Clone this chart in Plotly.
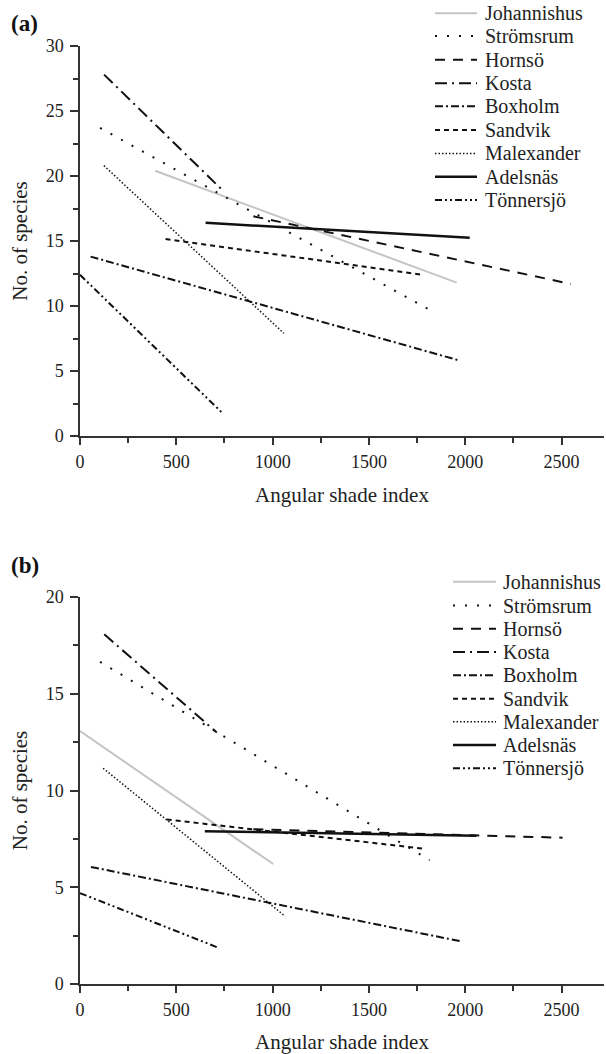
import plotly.graph_objects as go

sites = ["Johannishus", "Strömsrum", "Hornsö", "Kosta", "Boxholm",
         "Sandvik", "Malexander", "Adelsnäs", "Tönnersjö"]

# Panel (a): regression line end points
a_x0 = [390, 104, 900, 125, 55, 444, 124, 652, 0]
a_x1 = [1955, 1815, 2547, 740, 1971, 1780, 1058, 2023, 737]
a_y0 = [20.4, 23.7, 16.9, 27.8, 13.8, 15.15, 20.8, 16.4, 12.4]
a_y1 = [11.8, 9.7, 11.7, 18.9, 5.8, 12.4, 7.9, 15.25, 1.8]

# Panel (b): regression line end points
b_x0 = [0, 104, 900, 126, 57, 450, 120, 648, 0]
b_x1 = [1003, 1815, 2505, 710, 1980, 1780, 1065, 2057, 717]
b_y0 = [13.07, 16.65, 8.0, 18.07, 6.05, 8.5, 11.15, 7.9, 4.7]
b_y1 = [6.2, 6.4, 7.56, 13.0, 2.2, 7.0, 3.5, 7.66, 1.88]

x_ticks = [0, 500, 1000, 1500, 2000, 2500]

styles = {
    "Johannishus": dict(color="#c4c4c4", width=2, dash="solid"),
    "Strömsrum": dict(color="#111111", width=2, dash="2px,10px"),
    "Hornsö": dict(color="#111111", width=2, dash="10px,8px"),
    "Kosta": dict(color="#111111", width=2, dash="12px,5px,2px,5px"),
    "Boxholm": dict(color="#111111", width=2, dash="8px,3px,2px,3px"),
    "Sandvik": dict(color="#111111", width=2, dash="5px,4px"),
    "Malexander": dict(color="#111111", width=1.5, dash="1.5px,2px"),
    "Adelsnäs": dict(color="#111111", width=2.5, dash="solid"),
    "Tönnersjö": dict(color="#111111", width=2, dash="7px,3px,2px,3px,2px,3px"),
}

fig = go.Figure()
for i, s in enumerate(sites):
    fig.add_trace(go.Scatter(x=[a_x0[i], a_x1[i]], y=[a_y0[i], a_y1[i]], mode="lines",
                             name=s, line=styles[s], xaxis="x", yaxis="y", showlegend=False))
for i, s in enumerate(sites):
    fig.add_trace(go.Scatter(x=[b_x0[i], b_x1[i]], y=[b_y0[i], b_y1[i]], mode="lines",
                             name=s, line=styles[s], xaxis="x2", yaxis="y2", showlegend=False))

FONT = "Liberation Serif"
L, R, T, B = 80, 2, 46, 70
W, Hfig = 606, 1054
PW = W - L - R
PH = Hfig - T - B


def px(xp):
    return (xp - L) / PW


def py(yp):
    return (Hfig - B - yp) / PH


axis_common = dict(showline=True, linecolor="#333333", linewidth=1.5, ticks="outside",
                   tickcolor="#333333", tickwidth=1.5, showgrid=False, zeroline=False,
                   automargin=False,
                   tickfont=dict(family=FONT, size=18, color="#222222"),
                   title_font=dict(family=FONT, size=21, color="#222222"))

xax = dict(axis_common, range=[0, 2720], tickvals=x_ticks, ticklen=7, ticklabelstandoff=2,
           minor=dict(dtick=250, ticks="outside", ticklen=5, tickcolor="#333333", tickwidth=1.5),
           title=dict(text="Angular shade index", standoff=16))

yminor = dict(dtick=2.5, ticks="outside", ticklen=5, tickcolor="#333333", tickwidth=1.5)

# manual legends (sample line + label) for each panel
shapes = []
annotations = []
leg_a = dict(x0=435, x1=477, tx=483, ys=[13.3, 35.9, 59.8, 83.3, 106.3, 130, 153.5, 176.7, 200])
leg_b = dict(x0=453, x1=496, tx=501, ys=[581.7, 605.5, 628.8, 652, 675.3, 698.7, 721.8, 745, 768.3])
for leg in (leg_a, leg_b):
    for i, s in enumerate(sites):
        st = styles[s]
        yy = py(leg["ys"][i])
        shapes.append(dict(type="line", xref="paper", yref="paper",
                           x0=px(leg["x0"]), x1=px(leg["x1"]), y0=yy, y1=yy,
                           line=dict(color=st["color"], width=st["width"], dash=st["dash"])))
        annotations.append(dict(text=s, xref="paper", yref="paper", x=px(leg["tx"]), y=yy,
                                xanchor="left", yanchor="middle", showarrow=False,
                                font=dict(family=FONT, size=20, color="#222222")))

annotations += [
    dict(text="<b>(a)</b>", xref="paper", yref="paper", x=px(9), y=py(23),
         xanchor="left", yanchor="middle", showarrow=False, font=dict(family=FONT, size=23, color="#111")),
    dict(text="<b>(b)</b>", xref="paper", yref="paper", x=px(9), y=py(565),
         xanchor="left", yanchor="middle", showarrow=False, font=dict(family=FONT, size=23, color="#111")),
]

fig.update_layout(
    width=W, height=Hfig,
    margin=dict(l=L, r=R, t=T, b=B),
    paper_bgcolor="white", plot_bgcolor="white",
    font=dict(family=FONT, color="#222222"),
    xaxis=dict(xax, domain=[0, 1], anchor="y"),
    yaxis=dict(axis_common, domain=[py(436), 1], anchor="x", range=[0, 30], dtick=5, ticklen=8,
               minor=yminor, ticklabelstandoff=3,
               title=dict(text="No. of species", standoff=12)),
    xaxis2=dict(xax, domain=[0, 1], anchor="y2"),
    yaxis2=dict(axis_common, domain=[0, py(597)], anchor="x2", range=[0, 20], dtick=5, ticklen=8,
                minor=yminor, ticklabelstandoff=3,
                title=dict(text="No. of species", standoff=12)),
    shapes=shapes,
    annotations=annotations,
)

fig.write_html("out.html", config={"displayModeBar": False},
               post_script="document.body.style.margin='0px';")
